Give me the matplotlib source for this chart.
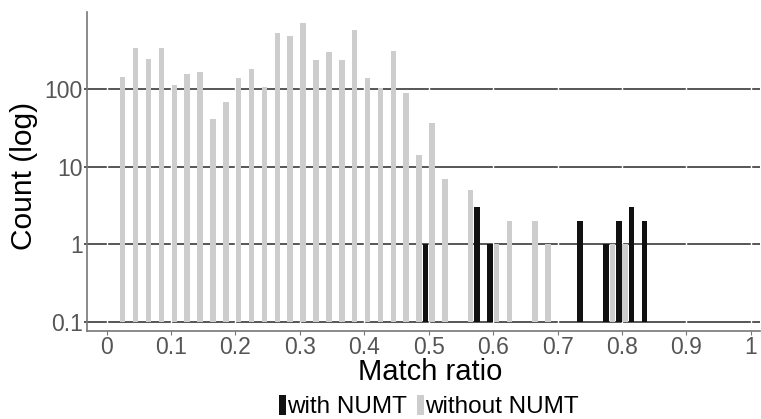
import matplotlib
matplotlib.use("Agg")
import matplotlib.pyplot as plt
import numpy as np

# bin centres (match ratio) and counts
bins_with = [0.50, 0.58, 0.60, 0.74, 0.78, 0.80, 0.82, 0.84]
count_with = [1, 3, 1, 2, 1, 2, 3, 2]

bins_without = [0.02, 0.04, 0.06, 0.08, 0.10, 0.12, 0.14, 0.16, 0.18, 0.20,
                0.22, 0.24, 0.26, 0.28, 0.30, 0.32, 0.34, 0.36, 0.38, 0.40,
                0.42, 0.44, 0.46, 0.48, 0.50, 0.52, 0.56, 0.60, 0.62, 0.66,
                0.68, 0.78, 0.80]
count_without = [142, 342, 244, 336, 112, 158, 166, 41, 69, 139,
                 181, 106, 525, 484, 708, 239, 301, 235, 574, 137,
                 102, 310, 89, 14, 36, 7, 5, 1, 2, 2,
                 1, 1, 1]

x_ticks = [0, 0.1, 0.2, 0.3, 0.4, 0.5, 0.6, 0.7, 0.8, 0.9, 1]
x_ticklabels = ["0", "0.1", "0.2", "0.3", "0.4", "0.5", "0.6", "0.7", "0.8", "0.9", "1"]
y_ticks = [0.1, 1, 10, 100]
y_ticklabels = ["0.1", "1", "10", "100"]

plt.rcParams['font.family'] = ['Liberation Sans', 'DejaVu Sans']

fig = plt.figure(figsize=(7.61, 4.19), dpi=100)
ax = fig.add_axes([0.1139, 0.2107, 0.885, 0.76])

base = 0.1
w = 0.0085
ax.bar(np.array(bins_with) - 0.005, np.array(count_with) - base, bottom=base, width=w,
       color="#111111", label="with NUMT", zorder=3)
ax.bar(np.array(bins_without) + 0.005, np.array(count_without) - base, bottom=base, width=w,
       color="#cdcdcd", label="without NUMT", zorder=3)

ax.set_yscale("log")
ax.set_xlim(-0.031, 1.0145)
ax.set_ylim(10 ** -1.116, 10 ** 2.99)

# gridlines: dark horizontal, white vertical on top of them
for yv in y_ticks:
    ax.axhline(yv, color="#3a3a3a", lw=1.2, zorder=1)
for xv in x_ticks:
    ax.axvline(xv, color="white", lw=1.0, zorder=2)

ax.set_xticks(x_ticks)
ax.set_xticklabels(x_ticklabels)
ax.set_yticks(y_ticks)
ax.set_yticklabels(y_ticklabels)
ax.minorticks_off()
ax.tick_params(axis="x", length=3, width=0.8, color="#777777", pad=1,
               labelsize=16.5, labelcolor="#555555")
ax.tick_params(axis="y", length=2, width=1.2, color="#3a3a3a", pad=1,
               labelsize=16.5, labelcolor="#555555")

for s in ["top", "right"]:
    ax.spines[s].set_visible(False)
for s in ["left", "bottom"]:
    ax.spines[s].set_color("#777777")
    ax.spines[s].set_linewidth(1.2)

ax.set_xlabel("Match ratio", fontsize=21, color="black", labelpad=2)
ax.xaxis.set_label_coords(0.5094, -0.085)
ax.set_ylabel("Count (log)", fontsize=21.5, color="black")
ax.yaxis.set_label_coords(-0.073, 0.4875)

fig.legend(loc="center", bbox_to_anchor=(0.5635, 0.029), ncol=2, frameon=False,
           fontsize=17.5, handlelength=0.3, handleheight=0.85, handletextpad=0.05,
           columnspacing=0.4, borderpad=0, borderaxespad=0)

fig.savefig("out.png", dpi=100)
